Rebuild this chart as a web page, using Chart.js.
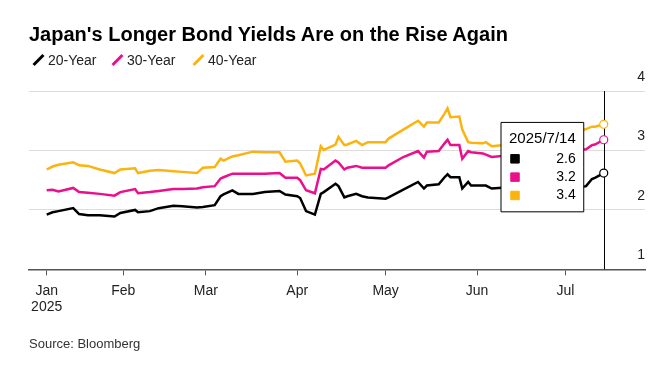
<!DOCTYPE html>
<html>
<head>
<meta charset="utf-8">
<script src="https://cdn.jsdelivr.net/npm/chart.js@4.4.1/dist/chart.umd.min.js"></script>
<style>
  body { margin: 0; background: #fff; font-family: 'Liberation Sans', Arial, sans-serif; }
  #wrap { position: relative; width: 671px; height: 366px; overflow: hidden; background: #fff; }
  #chart { position: absolute; left: 0; top: 0; }
  .title { position: absolute; left: 29px; top: 21px; font-size: 20px; font-weight: bold; color: #000; line-height: 26px; white-space: nowrap; }
  .item { position: absolute; top: 51px; font-size: 14px; color: #222; line-height: 18px; white-space: nowrap; }
  .item i { position: absolute; left: 6px; top: 2px; width: 3px; height: 14px; transform: rotate(45deg); }
  .item span { position: absolute; left: 17px; top: 0; }
  .source { position: absolute; left: 29px; top: 336px; font-size: 13px; color: #333; line-height: 16px; }
</style>
</head>
<body>
<div id="wrap">
  <canvas id="chart" width="671" height="366"></canvas>
  <div class="title">Japan's Longer Bond Yields Are on the Rise Again</div>
  <div id="legend"></div>
  <div class="source">Source: Bloomberg</div>
</div>
<script>
// Yields (percent)
const dates = [
    '2025-01-06', '2025-01-08', '2025-01-10', '2025-01-15', '2025-01-17', '2025-01-20', '2025-01-24', '2025-01-29', '2025-01-31',
    '2025-02-05', '2025-02-06', '2025-02-10', '2025-02-13', '2025-02-18', '2025-02-21', '2025-02-26', '2025-02-28',
    '2025-03-04', '2025-03-06', '2025-03-07', '2025-03-10', '2025-03-12', '2025-03-17', '2025-03-21', '2025-03-26', '2025-03-28',
    '2025-04-01', '2025-04-02', '2025-04-04', '2025-04-07', '2025-04-09', '2025-04-10', '2025-04-14', '2025-04-15', '2025-04-17',
    '2025-04-18', '2025-04-21', '2025-04-23', '2025-04-25',
    '2025-05-01', '2025-05-02', '2025-05-07', '2025-05-12', '2025-05-14', '2025-05-15', '2025-05-19', '2025-05-21', '2025-05-22',
    '2025-05-23', '2025-05-26', '2025-05-27', '2025-05-29', '2025-05-30',
    '2025-06-03', '2025-06-04', '2025-06-06', '2025-06-12', '2025-06-19', '2025-06-27',
    '2025-07-04', '2025-07-08', '2025-07-10', '2025-07-11', '2025-07-14'
];

const yield20 = [
    1.92, 1.96, 1.98, 2.03, 1.93, 1.91, 1.91, 1.89, 1.95,
    2.00, 1.96, 1.98, 2.03, 2.07, 2.06, 2.04, 2.05,
    2.08, 2.23, 2.26, 2.33, 2.27, 2.27, 2.30, 2.32, 2.26,
    2.23, 2.20, 1.98, 1.92, 2.27, 2.30, 2.44, 2.40, 2.21, 2.23, 2.27, 2.23, 2.21,
    2.19, 2.21, 2.34, 2.47, 2.36, 2.41, 2.43, 2.55, 2.60, 2.55, 2.55, 2.36, 2.47, 2.41,
    2.41, 2.41, 2.36, 2.38, 2.40, 2.38,
    2.36, 2.40, 2.52, 2.54, 2.62
];

const yield30 = [
    2.33, 2.34, 2.31, 2.37, 2.30, 2.29, 2.27, 2.24, 2.30,
    2.35, 2.28, 2.30, 2.32, 2.35, 2.35, 2.36, 2.38,
    2.40, 2.53, 2.55, 2.61, 2.61, 2.61, 2.61, 2.62, 2.54,
    2.54, 2.50, 2.33, 2.28, 2.69, 2.68, 2.83, 2.80, 2.68, 2.71, 2.74, 2.71, 2.71,
    2.71, 2.75, 2.89, 2.99, 2.88, 2.98, 2.99, 3.12, 3.18, 3.09, 3.09, 2.86, 2.99, 2.97,
    2.95, 2.93, 2.89, 2.92, 2.95, 2.98,
    3.00, 3.02, 3.09, 3.10, 3.18
];

const yield40 = [
    2.68, 2.73, 2.76, 2.80, 2.75, 2.74, 2.68, 2.62, 2.68,
    2.70, 2.62, 2.66, 2.67, 2.65, 2.64, 2.62, 2.71,
    2.72, 2.86, 2.83, 2.90, 2.92, 2.98, 2.97, 2.97, 2.81,
    2.83, 2.78, 2.58, 2.61, 3.07, 3.01, 3.10, 3.23, 3.09, 3.10, 3.16, 3.09, 3.14,
    3.14, 3.20, 3.35, 3.50, 3.40, 3.47, 3.47, 3.62, 3.71, 3.56, 3.57, 3.35, 3.14, 3.13,
    3.12, 3.14, 3.07, 3.10, 3.18, 3.25,
    3.30, 3.36, 3.40, 3.40, 3.44
];

const seriesNames = ['20-Year', '30-Year', '40-Year'];
const seriesColors = ['#000000', '#ec0f8c', '#fbb40f'];

const tickDates = ['2025-01-06', '2025-02-01', '2025-03-01', '2025-04-01', '2025-05-01', '2025-06-01', '2025-07-01'];
const tickLabels = [['Jan', '2025'], 'Feb', 'Mar', 'Apr', 'May', 'Jun', 'Jul'];
const yTicks = [1, 2, 3, 4];

// day number counted from Jan 1 2025
const START = Date.UTC(2025, 0, 1);
function dayNum(s) {
    const [y, m, d] = s.split('-').map(Number);
    return (Date.UTC(y, m - 1, d) - START) / 864e5;
}

const last = dates.length - 1;
const FONT = "'Liberation Sans', Arial, sans-serif";

// html legend with slanted strokes
const legendEl = document.getElementById('legend');
const legendLeft = [31, 110, 191];
seriesNames.forEach((name, i) => {
    const div = document.createElement('div');
    div.className = 'item';
    div.style.left = legendLeft[i] + 'px';
    div.innerHTML = `<i style="background:${seriesColors[i]}"></i><span>${name}</span>`;
    legendEl.appendChild(div);
});

const crosshair = {
    id: 'crosshair',
    beforeDatasetsDraw(chart) {
        const el = chart.getDatasetMeta(0).data[last];
        const { top, bottom } = chart.chartArea;
        const ctx = chart.ctx;
        const x = Math.round(el.x) + 0.5;
        ctx.save();
        ctx.strokeStyle = '#000';
        ctx.lineWidth = 1;
        ctx.beginPath();
        ctx.moveTo(x, top);
        ctx.lineTo(x, bottom);
        ctx.stroke();
        ctx.restore();
    }
};

Chart.Tooltip.positioners.lastPoint = function (items) {
    if (!items.length) return false;
    const yScale = this.chart.scales.y;
    return { x: items[0].element.x, y: yScale.getPixelForValue(2.72) };
};

const allValues = [yield20, yield30, yield40];

const chart = new Chart(document.getElementById('chart'), {
    type: 'line',
    data: {
        datasets: allValues.map((vals, i) => ({
            label: seriesNames[i],
            data: dates.map((d, j) => ({ x: dayNum(d), y: vals[j] })),
            borderColor: seriesColors[i],
            backgroundColor: seriesColors[i],
            borderWidth: 2.5,
            tension: 0,
            pointRadius: ctx => ctx.dataIndex === last ? 4 : 0,
            pointHoverRadius: ctx => ctx.dataIndex === last ? 4 : 0,
            pointBackgroundColor: '#fff',
            pointHoverBackgroundColor: '#fff',
            pointBorderColor: seriesColors[i],
            pointHoverBorderColor: seriesColors[i],
            pointBorderWidth: 1.2,
            pointHoverBorderWidth: 1.2
        }))
    },
    options: {
        responsive: false,
        animation: false,
        events: [],
        layout: { padding: { left: 29, right: 26, top: 91, bottom: 43 } },
        scales: {
            x: {
                type: 'linear',
                min: -1,
                max: 208,
                afterBuildTicks: axis => { axis.ticks = tickDates.map(d => ({ value: dayNum(d) })); },
                ticks: {
                    autoSkip: false,
                    maxRotation: 0,
                    padding: 7,
                    color: '#222',
                    font: { family: FONT, size: 14, lineHeight: 1.2 },
                    callback: value => tickLabels[tickDates.map(dayNum).indexOf(value)]
                },
                grid: { drawOnChartArea: false, drawTicks: true, tickLength: 6, color: '#555', lineWidth: 1 },
                border: { display: true, color: '#555', width: 1.5 }
            },
            y: {
                position: 'right',
                min: 1,
                max: 4,
                afterBuildTicks: axis => { axis.ticks = yTicks.map(v => ({ value: v })); },
                ticks: {
                    mirror: true,
                    padding: 0,
                    labelOffset: -14,
                    color: '#222',
                    font: { family: FONT, size: 14 }
                },
                grid: {
                    drawTicks: false,
                    color: ctx => ctx.tick && ctx.tick.value === 1 ? 'rgba(0,0,0,0)' : '#dcdcdc',
                    lineWidth: 1
                },
                border: { display: false }
            }
        },
        plugins: {
            legend: { display: false },
            title: { display: false },
            tooltip: {
                enabled: true,
                position: 'lastPoint',
                xAlign: 'right',
                yAlign: 'center',
                caretSize: 0,
                caretPadding: 20,
                backgroundColor: '#fff',
                borderColor: '#000',
                borderWidth: 1,
                cornerRadius: 0,
                titleColor: '#000',
                bodyColor: '#000',
                titleFont: { family: FONT, size: 15, weight: 'normal', lineHeight: 1.2 },
                bodyFont: { family: FONT, size: 14, lineHeight: 1.2 },
                titleMarginBottom: 3,
                bodySpacing: 1.5,
                bodyAlign: 'right',
                padding: { left: 8, right: 8, top: 7, bottom: 8 },
                usePointStyle: true,
                boxWidth: 12,
                boxHeight: 12,
                boxPadding: 2,
                callbacks: {
                    title: items => {
                        const [y, m, d] = dates[items[0].dataIndex].split('-').map(Number);
                        return `${y}/${m}/${d}`;
                    },
                    label: item => item.parsed.y.toFixed(1),
                    labelColor: item => ({
                        borderColor: seriesColors[item.datasetIndex],
                        backgroundColor: seriesColors[item.datasetIndex]
                    }),
                    labelPointStyle: () => ({ pointStyle: 'rect', rotation: 0 })
                }
            }
        }
    },
    plugins: [crosshair]
});

// show the hover readout on the latest date
const active = allValues.map((_, i) => ({ datasetIndex: i, index: last }));
const lastEl = chart.getDatasetMeta(0).data[last];
chart.setActiveElements(active);
chart.tooltip.setActiveElements(active, { x: lastEl.x, y: lastEl.y });
chart.update();
</script>
</body>
</html>
